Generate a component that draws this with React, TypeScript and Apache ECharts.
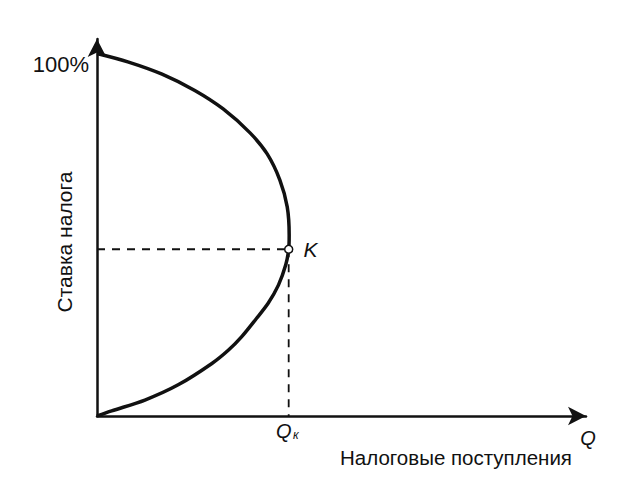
import React, { useEffect, useRef } from "react";
import * as echarts from "echarts";

// Tax revenue (Q) against tax rate (%), upper branch from 100% down to K
const upperBranch: [number, number][] = [
  [0, 100], [6.3, 97.7], [13.3, 94.3], [20.0, 89.8], [25.8, 84.7],
  [31.3, 78.1], [34.8, 72.3], [37.4, 65.1], [38.9, 57.7], [39.3, 49.9],
  [39.2, 46],
];
// lower branch from K down to the origin
const lowerBranch: [number, number][] = [
  [39.2, 46], [38.6, 41.7], [37.1, 36.1], [35.0, 31.1], [32.6, 26.9],
  [29.6, 21.9], [26.9, 18.2], [23.5, 14.5], [16.6, 8.6], [9.8, 4.4],
  [3.0, 1.4], [0, 0],
];
// peak point K: revenue Qк at the optimal rate
const peakQ = 39.2;
const peakRate = 46;
const rateTicks = [100];

const yName = "Ставка налога";
const xName = "Налоговые поступления";

const INK = "#111";
const FONT = "Liberation Sans, Arial, sans-serif";

export default function App() {
  const ref = useRef<HTMLDivElement>(null);

  useEffect(() => {
    document.body.style.margin = "0";
    if (!ref.current) return;
    const chart = echarts.init(ref.current, undefined, { renderer: "svg" });
    const curve = [...upperBranch, ...lowerBranch.slice(1)];
    chart.setOption({
      animation: false,
      backgroundColor: "#fff",
      grid: { left: 97, top: 39, right: 33, bottom: 72 },
      xAxis: {
        type: "value",
        min: 0,
        max: 100,
        axisLine: {
          onZero: false,
          symbol: ["none", "arrow"],
          symbolSize: [14, 18],
          lineStyle: { color: INK, width: 2.5 },
        },
        axisTick: { show: false },
        splitLine: { show: false },
        axisLabel: { show: false },
      },
      yAxis: {
        type: "value",
        min: 0,
        max: 104,
        interval: 100,
        axisLine: {
          show: true,
          onZero: false,
          symbol: ["none", "arrow"],
          symbolSize: [14, 18],
          lineStyle: { color: INK, width: 2.5 },
        },
        axisTick: { show: false },
        splitLine: { show: false },
        axisLabel: {
          margin: 8,
          verticalAlign: "top",
          fontFamily: FONT,
          fontSize: 22,
          color: INK,
          formatter: (v: number) => (rateTicks.includes(v) ? `${v}%` : ""),
        },
      },
      series: [
        {
          type: "line",
          data: [[0, peakRate], [peakQ, peakRate]],
          symbol: "none",
          lineStyle: { color: INK, width: 1.8, type: [8, 7] },
          z: 1,
        },
        {
          type: "line",
          data: [[peakQ, peakRate], [peakQ, 0]],
          symbol: "none",
          lineStyle: { color: INK, width: 1.8, type: [8, 7] },
          z: 1,
        },
        {
          type: "line",
          data: curve,
          smooth: 0.3,
          symbol: "none",
          lineStyle: { color: INK, width: 3.5 },
          z: 2,
        },
        {
          type: "scatter",
          data: [[peakQ, peakRate]],
          symbol: "circle",
          symbolSize: 8,
          itemStyle: { color: "#fff", borderColor: INK, borderWidth: 1.5, opacity: 1 },
          label: {
            show: true,
            position: "right",
            distance: 10,
            formatter: "K",
            fontFamily: FONT,
            fontStyle: "italic",
            fontSize: 21,
            color: INK,
          },
          z: 3,
        },
      ],
      graphic: [
        {
          type: "text",
          x: 64,
          y: 242,
          rotation: Math.PI / 2,
          style: {
            text: yName,
            fontFamily: FONT,
            fontSize: 21,
            fill: INK,
            align: "center",
            verticalAlign: "middle",
          },
        },
        {
          type: "text",
          x: 456,
          y: 457,
          style: {
            text: xName,
            fontFamily: FONT,
            fontSize: 20.5,
            fill: INK,
            align: "center",
            verticalAlign: "middle",
          },
        },
        {
          type: "text",
          x: 276,
          y: 431,
          style: {
            text: "Q",
            fontFamily: FONT,
            fontStyle: "italic",
            fontSize: 20,
            fill: INK,
            align: "left",
            verticalAlign: "middle",
          },
        },
        {
          type: "text",
          x: 293,
          y: 435,
          style: {
            text: "к",
            fontFamily: FONT,
            fontStyle: "italic",
            fontSize: 12,
            fill: INK,
            align: "left",
            verticalAlign: "middle",
          },
        },
        {
          type: "text",
          x: 588,
          y: 438,
          style: {
            text: "Q",
            fontFamily: FONT,
            fontStyle: "italic",
            fontSize: 20,
            fill: INK,
            align: "center",
            verticalAlign: "middle",
          },
        },
      ],
    });
    return () => chart.dispose();
  }, []);

  return <div ref={ref} style={{ width: 619, height: 488 }} />;
}
